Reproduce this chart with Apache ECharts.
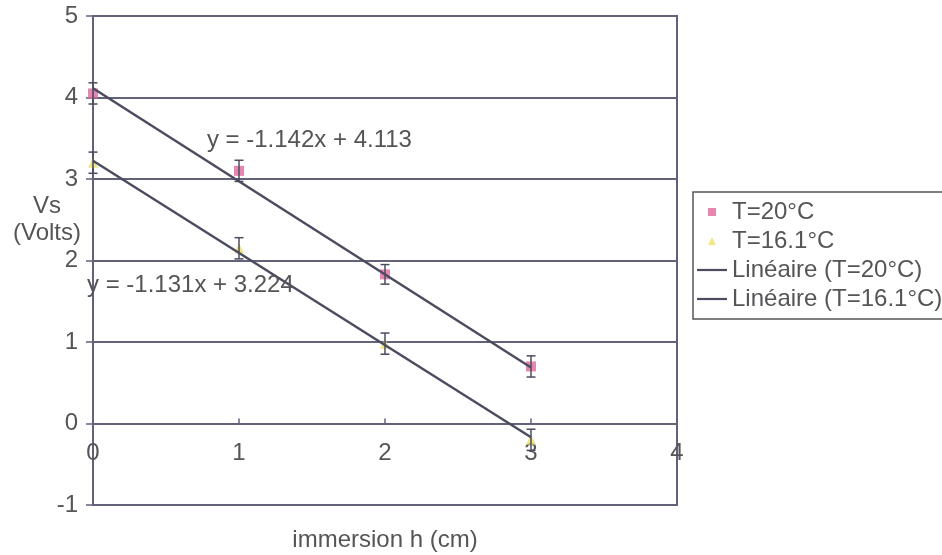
<!DOCTYPE html>
<html>
<head>
<meta charset="utf-8">
<script src="https://cdn.jsdelivr.net/npm/echarts@6/dist/echarts.min.js"></script>
<style>html,body{margin:0;padding:0;background:#fff}#c{width:942px;height:555px}</style>
</head>
<body>
<div id="c"></div>
<script>
// ---- data ----
var h = [0, 1, 2, 3];
var vs20 = [4.05, 3.1, 1.83, 0.7];
var vs16 = [3.2, 2.15, 0.98, -0.2];
var err20 = [0.13, 0.13, 0.12, 0.13];
var err16 = [0.13, 0.13, 0.13, 0.13];
var trendX = [0, 3];
var trend20 = [4.113, 0.687];
var trend16 = [3.224, -0.169];
var eq20 = 'y = -1.142x + 4.113';
var eq16 = 'y = -1.131x + 3.224';
var eq20Pos = [0.78, 3.48];
var eq16Pos = [0, 1.7];
var names = ['T=20°C', 'T=16.1°C', 'Linéaire (T=20°C)', 'Linéaire (T=16.1°C)'];
var xTicks = [0, 1, 2, 3, 4];
var yTicks = [-1, 0, 1, 2, 3, 4, 5];

// ---- chart ----
var FONT = 'Liberation Sans, Arial, sans-serif';
var FS = 24;
var TXT = '#555558';
var AX = '#62627a';
var LN = '#4c4c60';
function pts(xs, ys) { return xs.map(function (x, i) { return [x, ys[i]]; }); }
function errPts(xs, ys, es) { return xs.map(function (x, i) { return [x, ys[i], es[i]]; }); }
function errRender(params, api) {
  var x = api.value(0), y = api.value(1), e = api.value(2);
  var top = api.coord([x, y + e]), bot = api.coord([x, y - e]);
  var w = 4.5;
  var st = { stroke: LN, lineWidth: 1.5 };
  return { type: 'group', children: [
    { type: 'line', shape: { x1: top[0], y1: top[1], x2: bot[0], y2: bot[1] }, style: st },
    { type: 'line', shape: { x1: top[0] - w, y1: top[1], x2: top[0] + w, y2: top[1] }, style: st },
    { type: 'line', shape: { x1: bot[0] - w, y1: bot[1], x2: bot[0] + w, y2: bot[1] }, style: st }
  ]};
}
var SQUARE = 'path://M0,0L10,0L10,10L0,10Z';
var TRI = 'path://M5,0L10,10L0,10Z';
var DASH = 'path://M0,0L30,0L30,2.2L0,2.2Z';
var chart = echarts.init(document.getElementById('c'), null, { renderer: 'canvas' });
chart.setOption({
  animation: false,
  backgroundColor: '#fff',
  textStyle: { fontFamily: FONT, color: TXT },
  grid: { left: 93, right: 265, top: 16, bottom: 50, containLabel: false, outerBoundsMode: 'none',
    show: true, borderColor: AX, borderWidth: 2, backgroundColor: '#fff' },
  xAxis: {
    type: 'value', min: xTicks[0], max: xTicks[xTicks.length - 1], interval: 1,
    name: 'immersion h (cm)', nameLocation: 'middle', nameGap: 23, nameMoveOverlap: false,
    nameTextStyle: { fontSize: FS, color: TXT, fontFamily: FONT },
    axisLine: { show: true, onZero: true, lineStyle: { color: AX, width: 2 } },
    axisTick: { show: true, inside: true, length: 5, lineStyle: { color: AX, width: 1.5 } },
    axisLabel: { fontSize: FS, color: TXT, margin: -64, fontFamily: FONT, showMinLabel: true, showMaxLabel: true },
    splitLine: { show: false }
  },
  yAxis: {
    type: 'value', min: yTicks[0], max: yTicks[yTicks.length - 1], interval: 1,
    name: 'Vs\n(Volts)\n\n\n', nameLocation: 'middle', nameGap: 46, nameRotate: 0, nameMoveOverlap: false,
    nameTextStyle: { fontSize: FS, color: TXT, fontFamily: FONT, align: 'center', verticalAlign: 'middle', lineHeight: 27 },
    axisLine: { show: true, onZero: false, lineStyle: { color: AX, width: 2 } },
    axisTick: { show: true, inside: false, length: 7, lineStyle: { color: AX, width: 1.5 } },
    axisLabel: { fontSize: FS, color: TXT, margin: 15, fontFamily: FONT },
    splitLine: { show: true, lineStyle: { color: AX, width: 2 } }
  },
  legend: {
    orient: 'vertical', left: 693, top: 192,
    itemWidth: 30, itemHeight: 8, itemGap: 5,
    padding: [8, 6, 8, 4],
    borderColor: '#555', borderWidth: 1.5, backgroundColor: '#fff',
    textStyle: { fontSize: FS, color: TXT, fontFamily: FONT, lineHeight: 24 },
    data: [
      { name: names[0], icon: SQUARE },
      { name: names[1], icon: TRI },
      { name: names[2], icon: DASH },
      { name: names[3], icon: DASH }
    ]
  },
  series: [
    { name: names[0], type: 'scatter', symbol: 'rect', symbolSize: 10, z: 2,
      itemStyle: { color: '#e0699c' }, data: pts(h, vs20) },
    { name: names[1], type: 'scatter', symbol: 'triangle', symbolSize: 10, z: 2,
      itemStyle: { color: '#efe06a' }, data: pts(h, vs16) },
    { name: names[2], type: 'line', symbol: 'none', z: 4,
      lineStyle: { color: LN, width: 2.5 }, itemStyle: { color: LN },
      data: pts(trendX, trend20),
      markPoint: { symbol: 'circle', symbolSize: 0, silent: true,
        label: { show: true, position: 'right', distance: 0, formatter: eq20, fontSize: FS, color: TXT, fontFamily: FONT },
        data: [{ coord: eq20Pos }] } },
    { name: names[3], type: 'line', symbol: 'none', z: 4,
      lineStyle: { color: LN, width: 2.5 }, itemStyle: { color: LN },
      data: pts(trendX, trend16),
      markPoint: { symbol: 'circle', symbolSize: 0, silent: true,
        label: { show: true, position: 'right', distance: 0, offset: [-6, 0], formatter: eq16, fontSize: FS, color: TXT, fontFamily: FONT },
        data: [{ coord: eq16Pos }] } },
    { name: 'err20', type: 'custom', renderItem: errRender, z: 3, data: errPts(h, vs20, err20) },
    { name: 'err16', type: 'custom', renderItem: errRender, z: 3, data: errPts(h, vs16, err16) }
  ]
});
</script>
</body>
</html>
